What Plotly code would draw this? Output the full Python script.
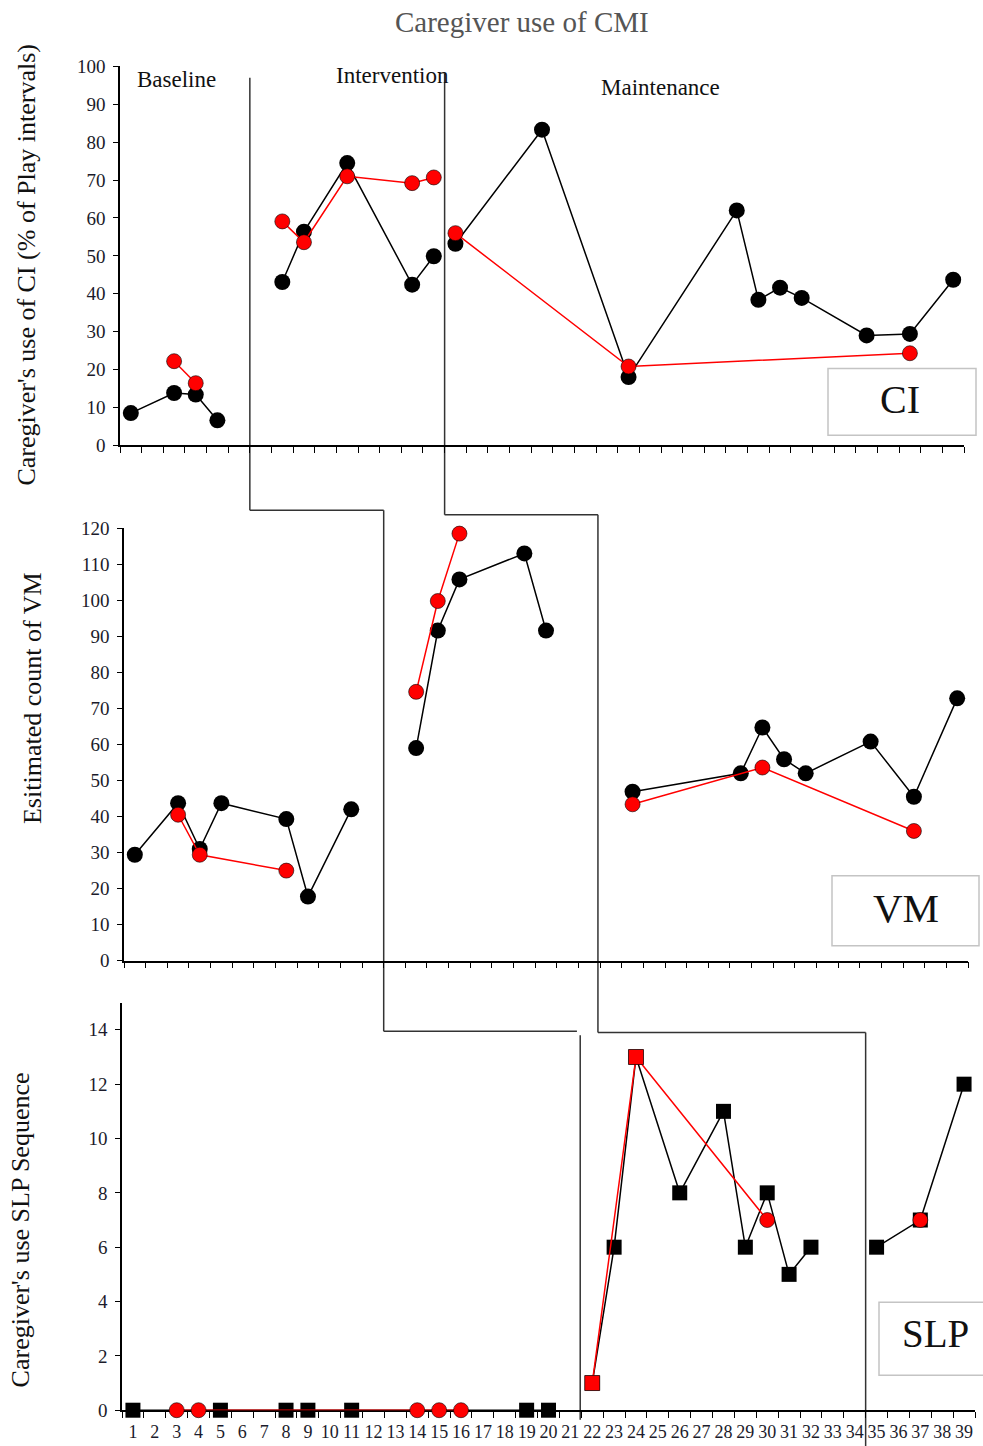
import plotly.graph_objects as go

# ---------------- data ----------------
sessions = list(range(1, 40))
session_labels = [str(s) for s in sessions]

# Panel 1: CI (% of play intervals); None = phase break
ci_black_x = [1, 3, 4, 5, None, 8, 9, 11, 14, 15, None, 16, 20, 24, 29, 30, 31, 32, 35, 37, 39]
ci_black_y = [8.5, 13.8, 13.4, 6.6, None, 43.1, 56.4, 74.5, 42.4, 49.9, None,
              53.2, 83.3, 18.0, 62.0, 38.4, 41.6, 38.9, 29.0, 29.4, 43.7]
ci_red_x = [3, 4, None, 8, 9, 11, 14, 15, None, 16, 24, 37]
ci_red_y = [22.2, 16.4, None, 59.1, 53.6, 71.0, 69.2, 70.7, None, 56.0, 20.8, 24.3]

# Panel 2: VM counts
vm_black_x = [1, 3, 4, 5, 8, 9, 11, None, 14, 15, 16, 19, 20, None, 24, 29, 30, 31, 32, 35, 37, 39]
vm_black_y = [29.4, 43.7, 31.0, 43.7, 39.3, 17.8, 42.0, None, 59.0, 91.6, 105.8, 113.0, 91.6, None,
              46.9, 52.0, 64.7, 55.9, 52.0, 60.8, 45.5, 72.8]
vm_red_x = [3, 4, 8, None, 14, 15, 16, None, 24, 30, 37]
vm_red_y = [40.5, 29.4, 25.0, None, 74.6, 99.8, 118.5, None, 43.4, 53.6, 36.0]

# Panel 3: SLP sequence
slp_black_x = [1, 5, 8, 9, 11, 19, 20, None, 22, 23, 24, 26, 28, 29, 30, 31, 32, None, 35, 37, 39]
slp_black_y = [0, 0, 0, 0, 0, 0, 0, None, 1, 6, 13, 8, 11, 6, 8, 5, 6, None, 6, 7, 12]
slp_red_x = [3, 4, 14, 15, 16, None, 22, 24, 30, None, 37]
slp_red_y = [0, 0, 0, 0, 0, None, 1, 13, 7, None, 7]
slp_red_sym = ["circle", "circle", "circle", "circle", "circle", "circle",
               "square", "square", "circle", "circle", "circle"]

phase_names = ["Baseline", "Intervention", "Maintenance"]
panel_names = ["CI", "VM", "SLP"]

# ---------------- layout geometry ----------------
W, H = 983, 1446
def px(x): return x / W
def py(y): return 1 - ((y - 9.2) / 0.9866) / H

panels = {
    "top": dict(xd=[px(120), px(964)], yd=[py(445), py(65.7)], yr=[0, 100]),
    "mid": dict(xd=[px(124), px(968)], yd=[py(961), py(528)], yr=[0, 120]),
    "bot": dict(xd=[px(122), px(975)], yd=[py(1411), py(1003)], yr=[0, 15]),
}
XR = [0.5, 39.5]

def xp(panel, v):
    d = panels[panel]["xd"]
    return d[0] + (v - XR[0]) / (XR[1] - XR[0]) * (d[1] - d[0])

def yp(panel, v):
    d = panels[panel]["yd"]; r = panels[panel]["yr"]
    return d[0] + (v - r[0]) / (r[1] - r[0]) * (d[1] - d[0])

FONT = "Liberation Serif, Times New Roman, serif"

fig = go.Figure()

def add_series(xs, ys, ax, color, symbol, size, lw=1.5):
    fig.add_trace(go.Scatter(
        x=xs, y=ys, xaxis=ax[0], yaxis=ax[1], mode="lines+markers",
        line=dict(color=color, width=lw),
        marker=dict(color=color, symbol=symbol, size=size,
                    line=dict(color="#000", width=0.6 if color != "black" else 0)),
        connectgaps=False, cliponaxis=False, showlegend=False, hoverinfo="x+y"))

add_series(ci_black_x, ci_black_y, ("x", "y"), "black", "circle", 16)
add_series(ci_red_x, ci_red_y, ("x", "y"), "#ff0000", "circle", 15)
add_series(vm_black_x, vm_black_y, ("x2", "y2"), "black", "circle", 16)
add_series(vm_red_x, vm_red_y, ("x2", "y2"), "#ff0000", "circle", 15)
add_series(slp_black_x, slp_black_y, ("x3", "y3"), "black", "square", 15)
add_series(slp_red_x, slp_red_y, ("x3", "y3"), "#ff0000", slp_red_sym, 15)

def xaxis(panel, anchor, labels):
    return dict(domain=panels[panel]["xd"], range=XR, anchor=anchor,
                showline=True, linecolor="black", linewidth=1.5,
                showgrid=False, zeroline=False, layer="below traces",
                tickmode="array", tickvals=sessions, ticktext=session_labels,
                ticks="", showticklabels=labels, ticklabelstandoff=4,
                tickfont=dict(family=FONT, size=18, color="#1b1b2b"),
                minor=dict(tickmode="array", tickvals=[s - 0.5 for s in sessions] + [39.5],
                           ticks="outside", ticklen=6, tickwidth=1.2, tickcolor="black",
                           showgrid=False))

def yaxis(panel, anchor, dtick):
    return dict(domain=panels[panel]["yd"], range=panels[panel]["yr"], anchor=anchor,
                showline=True, linecolor="black", linewidth=1.5,
                showgrid=False, zeroline=False, layer="below traces",
                tickmode="linear", tick0=0, dtick=dtick,
                ticks="outside", ticklen=5, tickwidth=1.2, tickcolor="black",
                ticklabelstandoff=4,
                tickfont=dict(family=FONT, size=19, color="#1b1b2b"))

y3 = yaxis("bot", "x3", 2)
y3["tickvals"] = [0, 2, 4, 6, 8, 10, 12, 14]
y3["tickmode"] = "array"

fig.update_layout(
    width=W, height=H, margin=dict(l=0, r=0, t=0, b=0),
    paper_bgcolor="white", plot_bgcolor="white",
    xaxis=xaxis("top", "y", False), yaxis=yaxis("top", "x", 10),
    xaxis2=xaxis("mid", "y2", False), yaxis2=yaxis("mid", "x2", 10),
    xaxis3=xaxis("bot", "y3", True), yaxis3=y3,
)

# ---------------- phase-change lines ----------------
LC = dict(color="#333333", width=1.5)
def seg(x0, y0, x1, y1):
    fig.add_shape(type="line", xref="paper", yref="paper",
                  x0=x0, y0=y0, x1=x1, y1=y1, line=LC, layer="below")

# path 1: Baseline -> Intervention
seg(xp("top", 6.5), yp("top", 97), xp("top", 6.5), yp("mid", 125))
seg(xp("top", 6.5), yp("mid", 125), xp("mid", 12.5), yp("mid", 125))
seg(xp("mid", 12.5), yp("mid", 125), xp("mid", 12.5), yp("bot", 13.95))
seg(xp("mid", 12.5), yp("bot", 13.95), xp("bot", 21.3), yp("bot", 13.95))
seg(xp("bot", 21.45), yp("bot", 13.8), xp("bot", 21.45), yp("bot", -0.35))
# path 2: Intervention -> Maintenance
seg(xp("top", 15.5), yp("top", 98), xp("top", 15.5), yp("mid", 123.7))
seg(xp("top", 15.5), yp("mid", 123.7), xp("mid", 22.4), yp("mid", 123.7))
seg(xp("mid", 22.4), yp("mid", 123.7), xp("mid", 22.4), yp("bot", 13.9))
seg(xp("mid", 22.4), yp("bot", 13.9), xp("bot", 34.5), yp("bot", 13.9))
seg(xp("bot", 34.5), yp("bot", 13.9), xp("bot", 34.5), -0.02)

# ---------------- panel label boxes ----------------
BOX = dict(color="#c4c4c4", width=1.5)
for (x0, y0, x1, y1) in [(828, 368, 976, 435), (832, 876, 979, 946), (879, 1303, 990, 1376)]:
    fig.add_shape(type="rect", xref="paper", yref="paper",
                  x0=px(x0), y0=py(y1), x1=px(x1), y1=py(y0), line=BOX, fillcolor="white")

ann = []
def text(t, x, y, size, color="#111111", angle=0, xanchor="center"):
    ann.append(dict(text=t, x=px(x), y=py(y), xref="paper", yref="paper", showarrow=False,
                    textangle=angle, xanchor=xanchor, yanchor="middle",
                    font=dict(family=FONT, size=size, color=color)))

text("Caregiver use of CMI", 522, 21, 29, color="#555555")
text(phase_names[0], 176, 79, 23)
text(phase_names[1], 392, 75, 23)
text(phase_names[2], 660, 87, 23)
text(panel_names[0], 900, 399, 40)
text(panel_names[1], 906, 908, 41)
text(panel_names[2], 935, 1334, 39)
text("Caregiver's use of CI (% of Play intervals)", 27, 264, 26, angle=-90)
text("Esitimated count of VM", 32, 698, 26, angle=-90)
text("Caregiver's use SLP Sequence", 20, 1231, 26, angle=-90)
fig.update_layout(annotations=ann)

page_fix = (
    "document.documentElement.style.margin='0';"
    "document.documentElement.style.overflow='hidden';"
    "document.body.style.margin='0';"
    "document.body.style.overflow='hidden';"
    "var gd=document.getElementById('{plot_id}');"
    "gd.style.position='absolute';gd.style.left='0px';gd.style.top='0px';"
)

fig.write_html("out.html", config={"displayModeBar": False}, post_script=page_fix)
